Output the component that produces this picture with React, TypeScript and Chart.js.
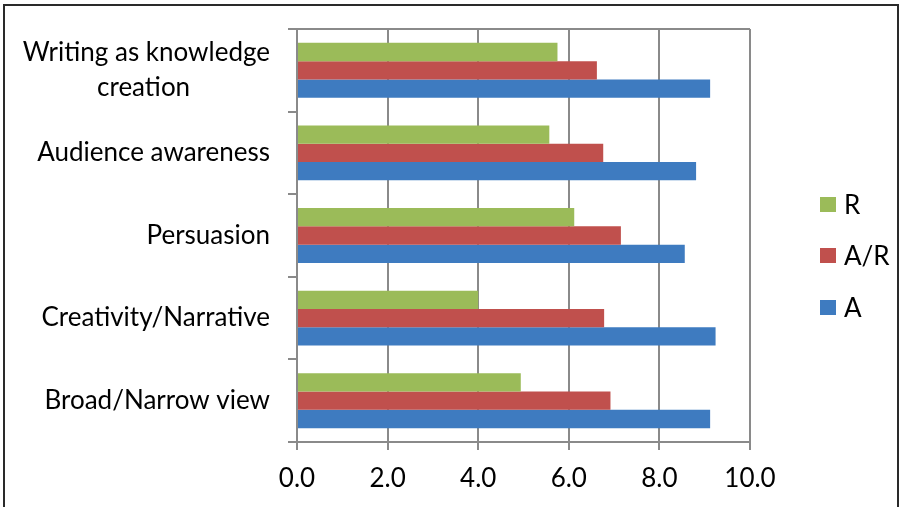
import React, { useEffect, useRef } from "react";
import { Chart, registerables } from "chart.js";

Chart.register(...registerables);

const categories: (string | string[])[] = [
  ["Writing as knowledge", "creation"],
  "Audience awareness",
  "Persuasion",
  "Creativity/Narrative",
  "Broad/Narrow view",
];
const seriesNames = ["R", "A/R", "A"];
const rValues = [5.75, 5.57, 6.12, 4.0, 4.94];
const arValues = [6.62, 6.76, 7.15, 6.78, 6.92];
const aValues = [9.12, 8.81, 8.56, 9.24, 9.12];
const seriesColors = ["#9BBB59", "#C0504D", "#3E7BC0"];
const xTickValues = [0, 2, 4, 6, 8, 10];
const xTickLabels = ["0.0", "2.0", "4.0", "6.0", "8.0", "10.0"];

const FONT_FAMILY = "Lato, 'Open Sans', sans-serif";
const FONT_SIZE = 26;
const GRID = "#8a8a8a";

function centerLines(label: string | string[]): string | string[] {
  if (!Array.isArray(label)) return label;
  const c = document.createElement("canvas").getContext("2d")!;
  c.font = `${FONT_SIZE}px ${FONT_FAMILY}`;
  const widest = Math.max(...label.map((l) => c.measureText(l).width));
  const sp = c.measureText(" ").width;
  return label.map((l) => {
    const w = c.measureText(l).width;
    const n = Math.round((widest - w) / 2 / sp);
    return l + " ".repeat(n);
  });
}

const topBorder = {
  id: "topBorder",
  afterDatasetsDraw(chart: any) {
    const { ctx, chartArea } = chart;
    ctx.save();
    ctx.strokeStyle = GRID;
    ctx.lineWidth = 2;
    ctx.beginPath();
    ctx.moveTo(chartArea.left, chartArea.top);
    ctx.lineTo(chartArea.right, chartArea.top);
    ctx.stroke();
    ctx.restore();
  },
};

export default function App() {
  const ref = useRef<HTMLCanvasElement>(null);

  useEffect(() => {
    if (!ref.current) return;
    const valueSets = [rValues, arValues, aValues];
    const chart = new Chart(ref.current, {
      type: "bar",
      data: {
        labels: categories as any,
        datasets: seriesNames.map((name, i) => ({
          label: name,
          data: valueSets[i],
          backgroundColor: seriesColors[i],
          borderWidth: 0,
          categoryPercentage: 0.665,
          barPercentage: 1,
        })),
      },
      options: {
        indexAxis: "y",
        animation: false,
        responsive: false,
        maintainAspectRatio: false,
        layout: { padding: { left: 10, right: 151, top: 29, bottom: 0 } },
        plugins: {
          legend: { display: false },
          tooltip: { enabled: false },
        },
        scales: {
          x: {
            min: 0,
            max: 10,
            afterBuildTicks: (s: any) => {
              s.ticks = xTickValues.map((v) => ({ value: v }));
            },
            afterFit: (s: any) => {
              s.height = 65;
              s.paddingLeft = 0;
              s.paddingRight = 0;
            },
            grid: {
              color: GRID,
              lineWidth: 2,
              tickLength: 8,
              drawTicks: true,
            },
            border: { display: true, color: GRID, width: 2 },
            ticks: {
              color: "#000",
              padding: 13,
              font: { family: FONT_FAMILY, size: FONT_SIZE },
              callback: (_v: any, i: number) => xTickLabels[i],
            },
          },
          y: {
            afterFit: (s: any) => {
              s.width = 287;
              s.paddingTop = 0;
              s.paddingBottom = 0;
            },
            grid: {
              offset: true,
              drawOnChartArea: false,
              color: GRID,
              lineWidth: 2,
              tickLength: 9,
            },
            border: { display: true, color: GRID, width: 2 },
            ticks: {
              color: "#000",
              padding: 18,
              font: { family: FONT_FAMILY, size: FONT_SIZE, lineHeight: 1.35 },
              callback: (_v: any, i: number) => centerLines(categories[i]),
            },
          },
        },
      },
      plugins: [topBorder],
    });
    return () => chart.destroy();
  }, []);

  const legendTops = [204, 255, 307];

  return (
    <div
      style={{
        position: "absolute",
        left: 0,
        top: 0,
        width: 901,
        height: 507,
        overflow: "hidden",
        background: "#fff",
      }}
    >
      <canvas
        ref={ref}
        width={901}
        height={507}
        style={{ position: "absolute", left: 0, top: 0, width: 901, height: 507 }}
      />
      <div
        style={{
          position: "absolute",
          left: 3,
          top: 4,
          width: 896,
          height: 600,
          boxSizing: "border-box",
          border: "2px solid #2a2a2a",
          pointerEvents: "none",
        }}
      />
      {seriesNames.map((name, i) => (
        <div
          key={name}
          style={{
            position: "absolute",
            left: 820,
            top: legendTops[i] - 16,
            height: 32,
            display: "flex",
            alignItems: "center",
            fontFamily: FONT_FAMILY,
            fontSize: FONT_SIZE,
            color: "#000",
          }}
        >
          <span
            style={{
              display: "inline-block",
              width: 16,
              height: 15,
              background: seriesColors[i],
              marginRight: 8,
            }}
          />
          <span>{name}</span>
        </div>
      ))}
    </div>
  );
}
